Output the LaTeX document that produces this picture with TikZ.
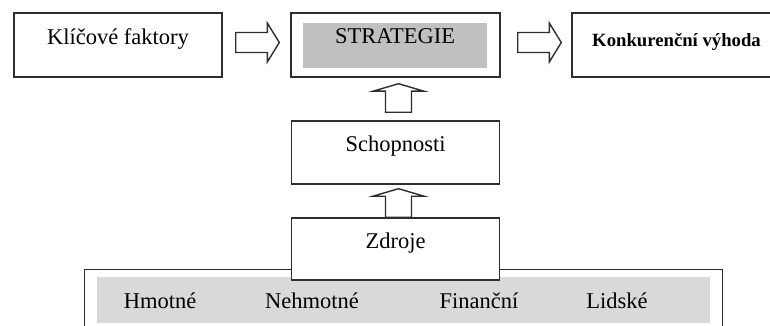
\documentclass[tikz,border=0pt]{standalone}
\usepackage{fontspec}
\setmainfont{Liberation Serif}
\usetikzlibrary{calc}
\definecolor{linec}{HTML}{2E2E2E}
\definecolor{stratgray}{HTML}{C0C0C0}
\definecolor{resgray}{HTML}{D9D9D9}
\tikzset{
  box/.style={draw=linec, line width=1.4pt, fill=white, minimum width=208pt, inner sep=0pt,
    font=\fontsize{22.5}{27}\selectfont},
  grayfill/.style={fill=#1, inner sep=0pt, font=\fontsize{22.5}{27}\selectfont},
  restxt/.style={anchor=base, inner sep=0pt, font=\fontsize{22.5}{27}\selectfont},
  blockarr/.style={draw=linec, line width=1.4pt, fill=white, line join=miter}
}
\newcommand{\rarr}[2]{\draw[blockarr] ($(#1)+(0,-10)$) -- ($(#2)+(-12,-10)$) -- ($(#2)+(-12,-19.5)$) -- (#2)
  -- ($(#2)+(-12,19.5)$) -- ($(#2)+(-12,10)$) -- ($(#1)+(0,10)$) -- cycle;}
\newcommand{\uarr}[2]{\draw[blockarr] ($(#1)+(-13,0)$) -- ($(#2)+(-13,7.5)$) -- ($(#2)+(-25.5,7.5)$) -- (#2)
  -- ($(#2)+(25.5,7.5)$) -- ($(#2)+(13,7.5)$) -- ($(#1)+(13,0)$) -- cycle;}
\begin{document}
\begin{tikzpicture}[x=1pt,y=-1pt]
\useasboundingbox (0,0) rectangle (770,326);
\node[box, text height=32pt, text depth=32pt] (faktory) at (118,45) {Klíčové faktory};
\node[box, minimum width=209pt, minimum height=64pt] (strat) at (395.5,45) {};
\node[grayfill=stratgray, minimum width=184pt, text height=21pt, text depth=24pt] (stratin) at (395,45.5) {STRATEGIE};
\node[box, minimum width=209pt, text height=34pt, text depth=30pt, font=\fontsize{18.7}{22}\selectfont\bfseries] (vyhoda) at (676.5,45) {Konkurenční výhoda};
\node[box, text height=30pt, text depth=33pt] (schop) at (395.5,152.5) {Schopnosti};
\node[draw=linec, line width=1.4pt, minimum width=638pt, minimum height=70pt, anchor=north west] (zdrojebox) at (84,269) {};
\node[grayfill=resgray, minimum width=613pt, minimum height=46pt] (zdrojein) at (403.5,300) {};
\node[restxt] (hmotne) at (160,308) {Hmotné};
\node[restxt] (nehmotne) at (312,308) {Nehmotné};
\node[restxt] (financni) at (479,308) {Finanční};
\node[restxt] (lidske) at (617,308) {Lidské};
\node[box, text height=30pt, text depth=32pt] (zdroje) at (395.5,249) {Zdroje};
\coordinate (r1a) at ($(faktory.east)+(13,-2.5)$);
\coordinate (r1b) at ($(strat.west)+(-11,-2.5)$);
\coordinate (r2a) at ($(strat.east)+(17,-2.5)$);
\coordinate (r2b) at ($(vyhoda.west)+(-10,-2.5)$);
\coordinate (u1a) at ($(schop.north)+(3,-8)$);
\coordinate (u1b) at ($(strat.south)+(3,6)$);
\coordinate (u2a) at ($(zdroje.north)+(3,0)$);
\coordinate (u2b) at ($(schop.south)+(3,4)$);
\rarr{r1a}{r1b}
\rarr{r2a}{r2b}
\uarr{u1a}{u1b}
\uarr{u2a}{u2b}
\end{tikzpicture}
\end{document}
